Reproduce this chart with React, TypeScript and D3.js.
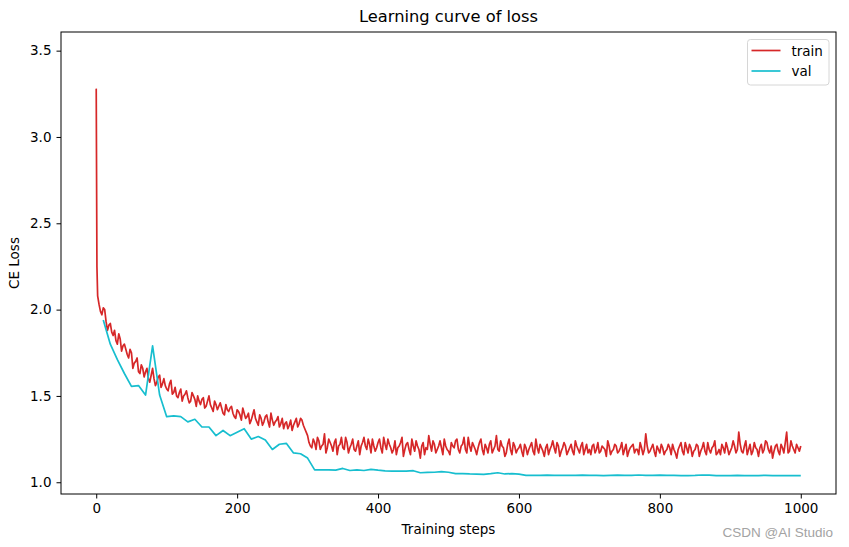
import React, { useEffect, useRef } from "react";
import * as d3 from "d3";

// train loss: steps 0,1,2 then every 4 steps up to 1000
const trainHead = [3.28, 2.25, 2.08];
const trainLoss = [
    2.03, 1.97, 2.0, 1.88, 1.92, 1.85, 1.82, 1.86, 1.76, 1.8, 1.74, 1.77, 1.66, 1.7, 1.64, 1.68, 1.61, 1.66, 1.58, 1.66, 1.56, 1.61, 1.55, 1.6, 1.54,
    1.57, 1.51, 1.55, 1.49, 1.54, 1.5, 1.53, 1.46, 1.52, 1.48, 1.5, 1.45, 1.49, 1.44, 1.5, 1.43, 1.47, 1.42, 1.46, 1.4, 1.45, 1.41, 1.44, 1.38, 1.42,
    1.39, 1.43, 1.37, 1.4, 1.36, 1.42, 1.35, 1.39, 1.33, 1.38, 1.35, 1.4, 1.33, 1.36, 1.32, 1.37, 1.34, 1.31, 1.36, 1.33, 1.37, 1.34, 1.36, 1.31,
    1.27, 1.21, 1.25, 1.19, 1.24, 1.21, 1.28, 1.2, 1.23, 1.18, 1.25, 1.21, 1.26, 1.19, 1.23, 1.2, 1.25, 1.18, 1.24, 1.21, 1.26, 1.19, 1.22, 1.25, 1.18, 1.23,
    1.2, 1.26, 1.19, 1.22, 1.17, 1.24, 1.2, 1.23, 1.15, 1.22, 1.19, 1.25, 1.18, 1.21, 1.14, 1.23, 1.2, 1.27, 1.18, 1.22, 1.19, 1.24, 1.16, 1.21, 1.18,
    1.23, 1.2, 1.25, 1.17, 1.22, 1.19, 1.26, 1.18, 1.21, 1.16, 1.23, 1.19, 1.22, 1.17, 1.24, 1.19, 1.27, 1.18, 1.21, 1.15, 1.22, 1.19, 1.23, 1.17, 1.2,
    1.18, 1.22, 1.16, 1.21, 1.18, 1.25, 1.17, 1.2, 1.15, 1.22, 1.19, 1.24, 1.17, 1.21, 1.18, 1.23, 1.16, 1.2, 1.18, 1.24, 1.19, 1.21, 1.16, 1.22, 1.19,
    1.21, 1.17, 1.23, 1.18, 1.2, 1.15, 1.21, 1.18, 1.22, 1.17, 1.2, 1.16, 1.22, 1.18, 1.21, 1.17, 1.19, 1.23, 1.16, 1.28, 1.17, 1.2, 1.18, 1.21, 1.17,
    1.2, 1.18, 1.22, 1.16, 1.19, 1.14, 1.21, 1.18, 1.23, 1.17, 1.2, 1.18, 1.22, 1.15, 1.2, 1.18, 1.23, 1.17, 1.21, 1.16, 1.19, 1.22, 1.17, 1.2, 1.18,
    1.24, 1.17, 1.29, 1.18, 1.21, 1.16, 1.22, 1.18, 1.2, 1.15, 1.22, 1.19, 1.23, 1.17, 1.14, 1.21, 1.18, 1.22, 1.17, 1.29, 1.18, 1.21, 1.17, 1.2, 1.21,
];

// train loss in between: steps 6, 10, 14, ... 998
const trainLossMid = [
    1.99, 2.01, 1.93, 1.91, 1.87, 1.88, 1.8, 1.83, 1.79, 1.77, 1.72, 1.75, 1.69, 1.72, 1.63, 1.66, 1.64, 1.6, 1.62, 1.6, 1.58, 1.62, 1.57, 1.56,
    1.53, 1.59, 1.52, 1.5, 1.52, 1.47, 1.51, 1.49, 1.47, 1.5, 1.44, 1.47, 1.48, 1.43, 1.47, 1.45, 1.41, 1.45, 1.44, 1.43, 1.39, 1.42, 1.43, 1.4, 1.37,
    1.41, 1.36, 1.4, 1.38, 1.34, 1.39, 1.37, 1.33, 1.37, 1.35, 1.39, 1.32, 1.36, 1.35, 1.38, 1.34, 1.31, 1.35, 1.33, 1.3, 1.35, 1.32, 1.37, 1.33, 1.29,
    1.23, 1.2, 1.23, 1.26, 1.19, 1.22, 1.17, 1.25, 1.21, 1.23, 1.16, 1.22, 1.2, 1.26, 1.17, 1.22, 1.19, 1.21, 1.16, 1.23, 1.21, 1.25, 1.17, 1.21, 1.2,
    1.25, 1.17, 1.22, 1.25, 1.2, 1.19, 1.16, 1.21, 1.26, 1.19, 1.23, 1.16, 1.21, 1.24, 1.19, 1.21, 1.16, 1.19, 1.22, 1.24, 1.17, 1.21, 1.2, 1.25, 1.19,
    1.16, 1.21, 1.24, 1.19, 1.21, 1.26, 1.17, 1.21, 1.23, 1.19, 1.2, 1.25, 1.16, 1.2, 1.22, 1.17, 1.21, 1.19, 1.24, 1.2, 1.17, 1.25, 1.16, 1.21, 1.19,
    1.22, 1.15, 1.2, 1.19, 1.23, 1.16, 1.2, 1.22, 1.18, 1.2, 1.16, 1.21, 1.2, 1.23, 1.15, 1.2, 1.21, 1.18, 1.22, 1.16, 1.21, 1.17, 1.23, 1.19, 1.17,
    1.16, 1.22, 1.19, 1.17, 1.21, 1.19, 1.24, 1.16, 1.19, 1.21, 1.18, 1.23, 1.19, 1.15, 1.2, 1.22, 1.19, 1.16, 1.2, 1.19, 1.21, 1.18, 1.22, 1.15, 1.19,
    1.22, 1.16, 1.19, 1.2, 1.22, 1.17, 1.19, 1.23, 1.16, 1.2, 1.22, 1.15, 1.19, 1.21, 1.18, 1.23, 1.16, 1.19, 1.2, 1.24, 1.17, 1.16, 1.2, 1.23, 1.16,
    1.2, 1.21, 1.19, 1.22, 1.17, 1.24, 1.19, 1.16, 1.23, 1.19, 1.2, 1.17, 1.24, 1.19, 1.21, 1.18, 1.22, 1.16, 1.2, 1.23, 1.17, 1.24, 1.19, 1.22, 1.18,
];

// validation loss every 10 steps from 10 to 1000
const valLoss = [
    1.94, 1.8, 1.71, 1.63, 1.555, 1.56, 1.505, 1.79, 1.505, 1.38,
    1.385, 1.38, 1.35, 1.365, 1.32, 1.32, 1.27, 1.3, 1.27, 1.29,
    1.31, 1.25, 1.265, 1.245, 1.19, 1.22, 1.225, 1.17, 1.165, 1.14,
    1.072, 1.072, 1.072, 1.07, 1.08, 1.068, 1.072, 1.068, 1.075, 1.07,
    1.066, 1.065, 1.065, 1.064, 1.067, 1.055, 1.057, 1.058, 1.062, 1.058,
    1.05, 1.05, 1.048, 1.047, 1.046, 1.05, 1.055, 1.048, 1.05, 1.047,
    1.04, 1.04, 1.04, 1.041, 1.04, 1.04, 1.04, 1.04, 1.041, 1.04,
    1.04, 1.039, 1.04, 1.041, 1.04, 1.04, 1.042, 1.04, 1.04, 1.041,
    1.04, 1.04, 1.039, 1.039, 1.04, 1.042, 1.041, 1.039, 1.038, 1.039,
    1.04, 1.038, 1.038, 1.039, 1.04, 1.038, 1.038, 1.039, 1.038, 1.038,
];

const xTicks = [0, 200, 400, 600, 800, 1000];
const yTicks = [1.0, 1.5, 2.0, 2.5, 3.0, 3.5];
const seriesNames = ["train", "val"];

const App = () => {
    const ref = useRef<SVGSVGElement>(null);

    useEffect(() => {
        const W = 849;
        const H = 547;
        const margin = { top: 32, right: 13, bottom: 53, left: 61 };
        const width = W - margin.left - margin.right;
        const height = H - margin.top - margin.bottom;
        const font = "DejaVu Sans, sans-serif";
        const colors = ["#d62728", "#17becf"];

        const svg = d3.select(ref.current);
        svg.selectAll("*").remove();

        const mainSteps = [0, 1, 2, ...d3.range(4, 1001, 4)];
        const midSteps = d3.range(6, 999, 4);
        const train = [
            ...[...trainHead, ...trainLoss].map((v, i) => [mainSteps[i], v] as [number, number]),
            ...trainLossMid.map((v, i) => [midSteps[i], v] as [number, number]),
        ].sort((a, b) => a[0] - b[0]);
        const valSteps = d3.range(10, 1001, 10);
        const val = valLoss.map((v, i) => [valSteps[i], v] as [number, number]);

        const x = d3.scaleLinear().domain([-50, 1050]).range([0, width]);
        const y = d3.scaleLinear().domain([0.932, 3.608]).range([height, 0]);

        const chart = svg.append("g").attr("transform", `translate(${margin.left},${margin.top})`);

        const clip = svg.append("defs").append("clipPath").attr("id", "plotclip");
        clip.append("rect").attr("width", width).attr("height", height);

        const line = d3.line<[number, number]>().x((d) => x(d[0])).y((d) => y(d[1]));

        const plot = chart.append("g").attr("clip-path", "url(#plotclip)");
        [train, val].forEach((series, i) => {
            plot.append("path")
                .datum(series)
                .attr("d", line)
                .attr("fill", "none")
                .attr("stroke", colors[i])
                .attr("stroke-width", 1.7)
                .attr("stroke-linejoin", "round");
        });

        const xAxis = chart.append("g")
            .attr("transform", `translate(0,${height})`)
            .call(d3.axisBottom(x).tickValues(xTicks).tickSize(4.5).tickPadding(5).tickFormat(d3.format("d")));
        const yAxis = chart.append("g")
            .call(d3.axisLeft(y).tickValues(yTicks).tickSize(4.5).tickPadding(5).tickFormat(d3.format(".1f")));
        [xAxis, yAxis].forEach((a) => {
            a.select(".domain").remove();
            a.selectAll("line").attr("stroke", "#000").attr("stroke-width", 1);
            a.selectAll("text").attr("font-family", font).attr("font-size", "13.5px").attr("fill", "#000");
        });

        // frame
        chart.append("rect")
            .attr("width", width)
            .attr("height", height)
            .attr("fill", "none")
            .attr("stroke", "#000")
            .attr("stroke-width", 1);

        svg.append("text")
            .attr("x", margin.left + width / 2)
            .attr("y", 22)
            .attr("text-anchor", "middle")
            .attr("font-family", font)
            .attr("font-size", "16.3px")
            .text("Learning curve of loss");

        svg.append("text")
            .attr("x", margin.left + width / 2)
            .attr("y", 534)
            .attr("text-anchor", "middle")
            .attr("font-family", font)
            .attr("font-size", "13.5px")
            .text("Training steps");

        svg.append("text")
            .attr("transform", "rotate(-90)")
            .attr("x", -(margin.top + height / 2))
            .attr("y", 19)
            .attr("text-anchor", "middle")
            .attr("font-family", font)
            .attr("font-size", "13.5px")
            .text("CE Loss");

        // legend
        const legend = svg.append("g").attr("transform", "translate(747.5,39.5)");
        legend.append("rect")
            .attr("width", 81.5)
            .attr("height", 45.5)
            .attr("rx", 3)
            .attr("fill", "#fff")
            .attr("fill-opacity", 0.8)
            .attr("stroke", "#d6d6d6")
            .attr("stroke-width", 1);
        seriesNames.forEach((name, i) => {
            legend.append("line")
                .attr("x1", 4)
                .attr("x2", 33)
                .attr("y1", 11 + i * 20.5)
                .attr("y2", 11 + i * 20.5)
                .attr("stroke", colors[i])
                .attr("stroke-width", 1.7);
            legend.append("text")
                .attr("x", 44)
                .attr("y", 16 + i * 20.5)
                .attr("font-family", font)
                .attr("font-size", "13.5px")
                .text(name);
        });

        svg.append("text")
            .attr("x", 833)
            .attr("y", 537)
            .attr("text-anchor", "end")
            .attr("font-family", "Liberation Sans, Arial, sans-serif")
            .attr("font-size", "13.5px")
            .attr("fill", "#a3a3a3")
            .text("CSDN @AI Studio");
    }, []);

    return (
        <div style={{ position: "absolute", left: 0, top: 0 }}>
            <svg ref={ref} width={849} height={547} style={{ display: "block", background: "#fff" }} />
        </div>
    );
};

export default App;
